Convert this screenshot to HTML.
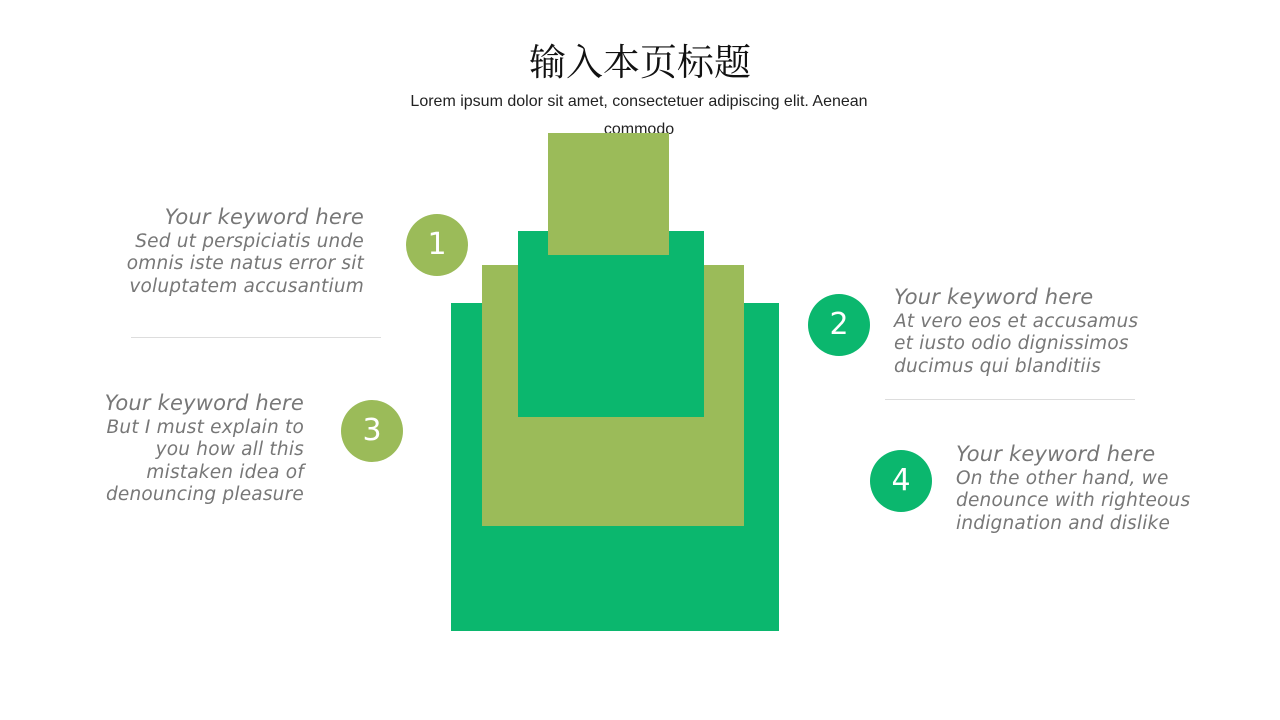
<!DOCTYPE html>
<html><head><meta charset="utf-8"><style>
body{margin:0;width:1280px;height:720px;background:#fff;position:relative;overflow:hidden;font-family:"Liberation Sans",sans-serif}
.a{position:absolute}
.r{position:absolute}
.c{position:absolute;width:62px;height:62px;border-radius:50%;color:#fff;font-size:30px;text-align:center;line-height:62px;font-family:"DejaVu Sans",sans-serif}
.t{position:absolute;color:#777;font-family:"DejaVu Sans",sans-serif;font-style:italic;font-size:18.5px;line-height:22.5px;white-space:nowrap;letter-spacing:0.2px}
.t b{font-weight:normal;font-size:21px}
</style></head><body>
<div class="a" style="left:0;width:1280px;top:32px;text-align:center;font-size:37px;font-family:'Liberation Serif','Noto Serif CJK SC',serif;color:#111">输入本页标题</div>
<div class="a" style="left:390px;width:498px;top:88px;text-align:center;font-size:16px;line-height:28px;color:#222">Lorem ipsum dolor sit amet, consectetuer adipiscing elit. Aenean commodo</div>
<div class="r" style="left:451px;top:303px;width:328px;height:328px;background:#0bb76e"></div>
<div class="r" style="left:482px;top:265px;width:262px;height:261px;background:#9bbb59"></div>
<div class="r" style="left:518px;top:231px;width:186px;height:186px;background:#0bb76e"></div>
<div class="r" style="left:548px;top:133px;width:121px;height:122px;background:#9bbb59"></div>
<div class="c" style="left:406px;top:214px;background:#9bbb59">1</div>
<div class="c" style="left:808px;top:294px;background:#0bb76e">2</div>
<div class="c" style="left:341px;top:400px;background:#9bbb59">3</div>
<div class="c" style="left:870px;top:450px;background:#0bb76e">4</div>
<div class="a" style="left:131px;top:337px;width:250px;border-top:1px solid #ddd"></div>
<div class="a" style="left:885px;top:399px;width:250px;border-top:1px solid #ddd"></div>
<div class="t" style="right:916px;top:206px;text-align:right"><b>Your keyword here</b><br>Sed ut perspiciatis unde<br>omnis iste natus error sit<br>voluptatem accusantium</div>
<div class="t" style="left:894px;top:286px"><b>Your keyword here</b><br>At vero eos et accusamus<br>et iusto odio dignissimos<br>ducimus qui blanditiis</div>
<div class="t" style="right:976px;top:392px;text-align:right"><b>Your keyword here</b><br>But I must explain to<br>you how all this<br>mistaken idea of<br>denouncing pleasure</div>
<div class="t" style="left:956px;top:443px"><b>Your keyword here</b><br>On the other hand, we<br>denounce with righteous<br>indignation and dislike</div>
</body></html>
